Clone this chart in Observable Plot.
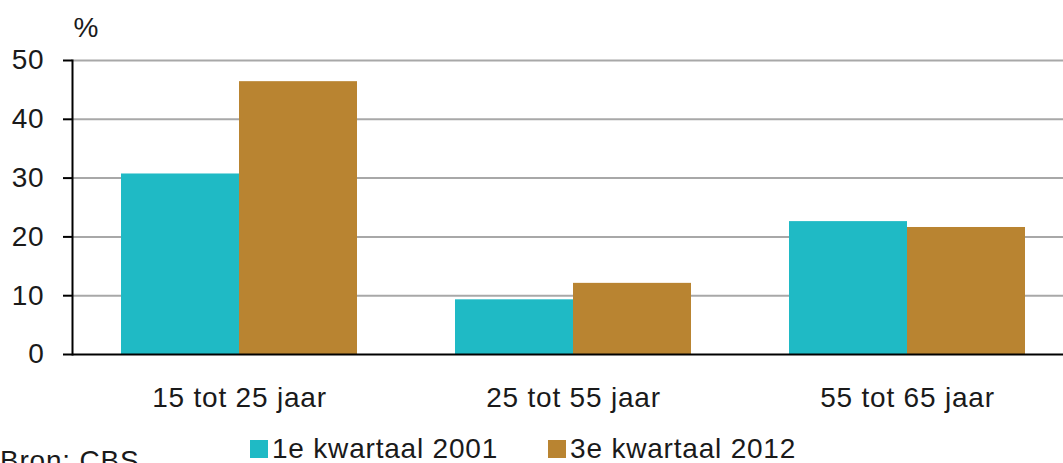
<!DOCTYPE html>
<html>
<head>
<meta charset="utf-8">
<script src="https://cdn.jsdelivr.net/npm/d3@7"></script>
<script src="https://cdn.jsdelivr.net/npm/@observablehq/plot@0.6"></script>
<style>
  html, body { margin: 0; padding: 0; background: #fff; }
  #wrap { position: relative; width: 1063px; height: 463px; overflow: hidden; font-family: "Liberation Sans", Arial, sans-serif; color: #1a1a1a; }
  .legend { position: absolute; top: 433px; left: 250px; display: flex; align-items: center; font-size: 28px; letter-spacing: 0.8px; white-space: nowrap; }
  .legend .item { display: flex; align-items: center; margin-right: 50px; }
  .legend .sw { width: 18px; height: 18px; margin-right: 4px; }
  .source { position: absolute; left: 0; top: 445px; font-size: 28px; letter-spacing: 0.8px; white-space: nowrap; }
</style>
</head>
<body>
<div id="wrap">
  <div id="chart"></div>
  <div class="legend" id="legend"></div>
  <div class="source">Bron: CBS</div>
</div>
<script>
const groups = ["15 tot 25 jaar", "25 tot 55 jaar", "55 tot 65 jaar"];
const series = ["1e kwartaal 2001", "3e kwartaal 2012"];
const values2001 = [30.7, 9.3, 22.6];
const values2012 = [46.4, 12.1, 21.6];
const colors = ["#1fbac5", "#b98431"];
const yTicks = [0, 10, 20, 30, 40, 50];
const unitLabel = "%";

const data = [];
groups.forEach((g, i) => {
  data.push({group: g, series: series[0], value: values2001[i]});
  data.push({group: g, series: series[1], value: values2012[i]});
});

const chart = Plot.plot({
  width: 1063,
  height: 425,
  marginTop: 60,
  marginBottom: 71,
  marginLeft: 72,
  marginRight: -11,
  style: {fontFamily: "'Liberation Sans', Arial, sans-serif", fontSize: "28px", letterSpacing: "0.8px", color: "#1a1a1a", background: "#fff"},
  fx: {domain: groups, padding: 0, label: null},
  x: {domain: series, axis: null, paddingInner: 0, paddingOuter: 0.41},
  y: {domain: [0, 50], axis: null},
  color: {domain: series, range: colors},
  marks: [
    Plot.ruleY(yTicks.filter(d => d > 0), {stroke: "#a8a8a8", strokeWidth: 2}),
    Plot.barY(data, {fx: "group", x: "series", y: "value", fill: "series", inset: 0}),
    Plot.ruleY([0], {stroke: "#000", strokeWidth: 2}),
    Plot.axisY({ticks: yTicks, tickSize: 9, tickPadding: 19, strokeWidth: 2, stroke: "#000", fontSize: 28, label: null, tickFormat: d => d}),
    Plot.frame({anchor: "left", facetAnchor: "left", stroke: "#000", strokeWidth: 2}),
    Plot.axisFx({anchor: "bottom", tickSize: 0, tickPadding: 33, fontSize: 28, label: null}),
    Plot.text([unitLabel], {fx: [groups[0]], frameAnchor: "top-left", textAnchor: "start", lineAnchor: "middle", dx: 1, dy: -32, fontSize: 28, fill: "#1a1a1a"})
  ]
});
document.getElementById("chart").appendChild(chart);

const legend = document.getElementById("legend");
series.forEach((s, i) => {
  const item = document.createElement("div");
  item.className = "item";
  const sw = document.createElement("span");
  sw.className = "sw";
  sw.style.background = colors[i];
  const t = document.createElement("span");
  t.textContent = s;
  item.appendChild(sw);
  item.appendChild(t);
  legend.appendChild(item);
});
</script>
</body>
</html>
